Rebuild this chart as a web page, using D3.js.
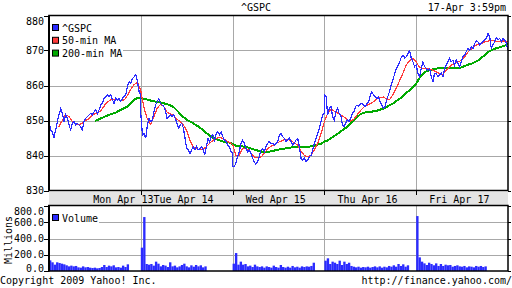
<!DOCTYPE html>
<html>
<head>
<meta charset="utf-8">
<script src="https://cdn.jsdelivr.net/npm/d3@7"></script>
<style>
  html, body { margin: 0; padding: 0; background: #fff; }
  svg { display: block; font-family: "DejaVu Sans Mono", monospace; font-size: 10px; }
  .series { shape-rendering: crispEdges; }
</style>
</head>
<body>
<div class="display"></div>
<script>
// ^GSPC intraday, 5 days, with 50-min and 200-min moving averages + volume

const WIDTH = 512;
const HEIGHT = 288;

const days = ['Mon Apr 13', 'Tue Apr 14', 'Wed Apr 15', 'Thu Apr 16', 'Fri Apr 17'];
// where each day label sits, as a fraction of its trading day
const dayLabelAt = [0.81, 0.465, 0.47, 0.47, 0.47];

const priceTicks = [830, 840, 850, 860, 870, 880];
const volumeTicks = [0, 200, 400, 600, 800];

// ^GSPC, per trading day, evenly spaced from open to close
const gspc = [
  [850.1,847.3,846.8,845.1,847.3,849.7,851.6,853.3,852.0,849.7,851.6,850.6,848.7,847.3,849.2,849.7,848.7,849.2,848.7,848.2,847.3,849.7,850.6,851.1,851.6,852.0,851.6,852.5,853.0,852.0,853.0,854.4,854.9,856.3,856.8,857.3,856.8,857.3,855.9,854.9,856.3,855.9,856.3,855.4,856.3,856.8,857.3,859.7,861.1,860.6,862.0,862.5,863.0,861.1,858.2,857.3],
  [852.0,845.9,846.3,844.9,848.7,850.6,849.7,850.1,852.5,854.4,855.4,856.3,854.9,854.4,854.0,853.0,850.6,851.1,851.6,851.1,851.6,850.6,849.2,847.8,848.7,849.2,847.8,844.9,842.0,841.6,840.6,841.6,842.5,841.6,842.5,841.6,842.0,842.5,841.6,840.1,842.5,844.9,844.0,845.4,845.9,844.4,846.3,846.8,845.9,846.8,845.4,844.4,844.0,843.0,842.5,841.1,840.6],
  [836.8,836.8,837.8,839.7,841.1,843.5,844.4,843.5,842.0,841.1,841.6,840.6,839.2,838.2,837.5,838.2,839.7,841.6,842.0,841.1,842.5,843.5,844.0,843.5,843.5,843.0,843.5,844.0,845.9,846.3,845.4,844.9,844.0,844.4,844.9,844.0,843.0,843.5,844.4,844.9,842.5,839.2,838.7,839.2,838.2,838.7,839.7,840.1,841.6,843.5,844.9,846.3,847.8,849.7,851.6,852.0],
  [857.3,856.8,851.6,853.5,854.0,851.1,850.1,852.5,853.5,852.0,851.6,848.7,848.2,849.2,850.1,849.7,850.6,852.0,852.5,854.0,854.4,854.0,854.9,854.9,854.4,854.0,854.9,855.4,857.3,858.2,857.3,856.8,856.3,856.8,855.4,854.4,853.5,854.0,855.9,857.3,858.7,860.6,862.0,863.5,864.9,865.9,866.8,868.2,868.7,867.8,868.2,869.2,869.9,867.8,866.8,865.4,865.9],
  [865.9,863.5,862.5,864.9,866.8,865.4,864.9,864.4,864.9,862.5,861.1,863.5,863.5,862.5,863.0,863.5,862.5,864.9,865.9,866.8,867.8,866.8,867.3,865.9,867.3,866.3,865.4,866.8,868.2,868.7,869.7,870.6,870.1,871.1,870.6,872.0,872.7,872.5,871.6,872.0,872.5,873.0,873.5,874.9,874.0,870.6,871.6,872.5,873.7,873.0,873.5,872.5,873.5,873.0,872.0,870.1]
];

const ma50 = [
  [null,null,null,848.2,849.9,851.6,851.2,849.9,849.0,848.9,849.1,849.9,850.4,851.3,851.9,852.2,853.0,854.4,855.4,856.0,856.1,856.0,855.7,855.9,857.3,859.0,860.3,860.9,858.5],
  [858.5,853.5,850.4,848.9,851.1,853.5,854.6,854.0,852.4,851.9,851.4,850.4,849.7,848.7,847.1,844.2,842.5,841.9,841.6,841.8,842.5,843.5,844.3,844.9,845.1,844.9,844.3,843.7,843.2],
  [843.2,840.1,840.1,841.9,842.1,841.5,840.1,839.4,839.3,839.9,841.1,842.2,842.8,843.3,843.8,844.2,844.6,844.7,844.1,843.5,842.8,841.1,839.9,839.6,840.1,841.8,843.5,846.3,849.7],
  [849.7,852.0,853.2,852.7,852.2,851.5,851.0,850.2,849.8,850.4,851.6,852.8,853.8,854.3,854.8,855.4,856.1,856.6,856.7,856.1,856.1,857.5,859.4,861.5,863.6,865.9,867.1,867.7,866.8],
  [866.8,865.1,864.9,864.9,864.7,864.4,864.0,863.5,863.0,864.1,865.1,866.0,866.4,866.8,867.4,868.4,869.8,870.6,871.4,871.8,872.0,872.5,872.7,872.9,872.7,872.5,872.7,872.7,872.5]
];

const ma200 = [
  [null,null,null,null,null,null,null,null,null,null,null,null,null,null,849.9,850.2,850.7,851.1,851.5,851.9,852.1,852.6,853.1,853.6,854.0,855.0,856.0,856.4,856.5],
  [856.5,856.1,856.0,855.7,855.5,855.3,855.2,854.9,854.7,854.3,853.8,852.9,851.9,851.0,850.2,849.7,849.2,848.6,848.0,847.2,846.4,845.7,845.1,844.7,844.3,844.0,843.9,843.7,843.3],
  [843.3,842.8,842.7,842.6,842.4,842.2,841.9,841.6,841.3,841.1,841.1,841.1,841.2,841.5,841.7,841.9,842.0,842.2,842.3,842.4,842.4,842.5,842.5,842.5,842.6,842.8,843.1,843.4,844.0],
  [844.0,844.3,844.9,845.6,846.2,846.9,847.6,848.2,849.1,850.0,851.0,851.8,852.2,852.4,852.5,852.6,852.8,853.1,853.4,853.9,854.4,854.9,855.6,856.2,857.0,857.9,858.6,859.6,860.6],
  [860.6,862.1,863.2,864.0,864.3,864.6,864.8,865.0,865.1,865.1,865.1,865.1,865.1,864.9,865.3,865.6,866.0,866.3,866.7,867.2,868.0,868.7,869.6,870.1,870.5,870.8,871.1,871.4,871.8]
];

// volume in millions, 10-minute bars from the open
const volume = [
  [131,107,78,107,98,90,82,70,57,66,57,62,45,41,57,45,49,41,37,41,33,37,49,74,49,66,57,70,45,49,41,66,49,82],
  [287,664,86,78,86,66,115,90,57,74,66,49,107,57,66,45,57,74,90,57,45,70,53,74,57,70,45,57],
  [90,221,78,115,78,86,57,66,49,78,57,49,57,41,57,49,41,66,49,41,74,49,41,53,41,62,45,53,41,57,49,57,53,62,102],
  [127,156,86,115,102,86,127,74,115,86,102,62,53,45,53,41,49,45,53,41,49,57,45,57,41,53,45,62,53,70,53,86,62,82,53,70],
  [676,168,115,94,74,102,86,70,94,62,86,62,78,70,74,53,62,70,57,53,62,45,57,53,45,62,53,62,49,57]
];
const BAR_STEP = 10 / 390; // one 10-min bar, in days

const BLUE = '#2b2bff', RED = '#ff3b3b', GREEN = '#00aa00', GRID = '#a8a8a8';

let svg, x, y, yVol;

function flatten(series) {
  const out = [];
  series.forEach((vals, d) => {
    vals.forEach((v, i) => out.push({ t: d + i / (vals.length - 1), v: v }));
  });
  return out;
}

function setupSvg() {
  svg = d3.select('.display')
    .append('svg')
    .attr('width', WIDTH)
    .attr('height', HEIGHT);

  x = d3.scaleLinear().domain([0, days.length]).range([49, 508]);
  y = d3.scaleLinear().domain([830, 880]).range([190.5, 15.5]);
  yVol = d3.scaleLinear().domain([0, 800]).range([271, 206]);
}

function drawTitles() {
  svg.append('text').attr('x', 256).attr('y', 11).attr('text-anchor', 'middle').text('^GSPC');
  svg.append('text').attr('x', 506).attr('y', 11).attr('text-anchor', 'end').text('17-Apr 3:59pm');
  svg.append('text').attr('x', 0).attr('y', 284).text('Copyright 2009 Yahoo! Inc.');
  svg.append('text').attr('x', 512).attr('y', 284).attr('text-anchor', 'end').text('http://finance.yahoo.com/');
  svg.append('text')
    .attr('transform', 'translate(11.5,240) rotate(-90)')
    .attr('text-anchor', 'middle')
    .text('Millions');
}

function drawGrid(g, yScale, ticks, top, bottom) {
  g.selectAll('.hgrid')
    .data(ticks.slice(1, -1))
    .enter().append('line')
    .attr('x1', x(0)).attr('x2', x(days.length))
    .attr('y1', d => Math.round(yScale(d)) + 0.5).attr('y2', d => Math.round(yScale(d)) + 0.5)
    .attr('stroke', GRID);
  g.selectAll('.vgrid')
    .data(d3.range(1, days.length))
    .enter().append('line')
    .attr('x1', d => Math.round(x(d)) + 0.5).attr('x2', d => Math.round(x(d)) + 0.5)
    .attr('y1', top).attr('y2', bottom)
    .attr('stroke', GRID);
  // little ticks outside both edges
  g.selectAll('.ltick')
    .data(ticks)
    .enter().append('line')
    .attr('x1', 44).attr('x2', x(0))
    .attr('y1', d => Math.round(yScale(d)) + 0.5).attr('y2', d => Math.round(yScale(d)) + 0.5)
    .attr('stroke', '#000');
  g.selectAll('.rtick')
    .data(ticks)
    .enter().append('line')
    .attr('x1', x(days.length)).attr('x2', x(days.length) + 3)
    .attr('y1', d => Math.round(yScale(d)) + 0.5).attr('y2', d => Math.round(yScale(d)) + 0.5)
    .attr('stroke', '#000');
}

function drawPricePanel() {
  const g = svg.append('g');
  drawGrid(g, y, priceTicks, y(880), y(830));

  g.selectAll('.ylabel')
    .data(priceTicks)
    .enter().append('text')
    .attr('x', 44)
    .attr('y', d => Math.max(y(d), 21) + 3.5)
    .attr('text-anchor', 'end')
    .text(d => d);

  const line = d3.line()
    .defined(d => d.v != null)
    .x(d => x(d.t))
    .y(d => y(d.v));

  g.append('path').datum(flatten(ma200)).attr('class', 'series')
    .attr('d', line).attr('fill', 'none').attr('stroke', GREEN).attr('stroke-width', 2);
  g.append('path').datum(flatten(ma50)).attr('class', 'series')
    .attr('d', line).attr('fill', 'none').attr('stroke', RED).attr('stroke-width', 1.2);
  g.append('path').datum(flatten(gspc)).attr('class', 'series')
    .attr('d', line).attr('fill', 'none').attr('stroke', BLUE).attr('stroke-width', 1.2);

  // legend
  const legend = [['^GSPC', BLUE], ['50-min MA', RED], ['200-min MA', GREEN]];
  g.append('rect').attr('x', 50).attr('y', 22).attr('width', 73).attr('height', 37).attr('fill', '#fff');
  const items = g.selectAll('.legend')
    .data(legend)
    .enter().append('g')
    .attr('transform', (d, i) => `translate(52.5,${24.5 + i * 12.8})`);
  items.append('rect').attr('width', 6).attr('height', 6).attr('fill', d => d[1]).attr('stroke', '#000');
  items.append('text').attr('x', 9.5).attr('y', 7).text(d => d[0]);

  g.append('rect')
    .attr('x', x(0)).attr('y', y(880))
    .attr('width', x(days.length) - x(0)).attr('height', y(830) - y(880))
    .attr('fill', 'none').attr('stroke', '#000').attr('stroke-width', 1.5);
  g.append('line').attr('x1', 49).attr('x2', 49).attr('y1', y(880)).attr('y2', y(830))
    .attr('stroke', '#000').attr('stroke-width', 2);
}

function drawDateBand() {
  const g = svg.append('g');
  g.append('rect')
    .attr('x', x(0)).attr('y', 192)
    .attr('width', x(days.length) - x(0)).attr('height', 13)
    .attr('fill', '#e4e4e4');
  g.append('line').attr('x1', x(0)).attr('x2', x(days.length)).attr('y1', 205.5).attr('y2', 205.5).attr('stroke', '#000');
  g.selectAll('.dtick')
    .data(d3.range(1, days.length))
    .enter().append('line')
    .attr('x1', d => Math.round(x(d)) + 0.5).attr('x2', d => Math.round(x(d)) + 0.5)
    .attr('y1', 190).attr('y2', 195)
    .attr('stroke', '#000');
  g.selectAll('.dlabel')
    .data(days)
    .enter().append('text')
    .attr('x', (d, i) => x(i + dayLabelAt[i]))
    .attr('y', 202.5)
    .attr('text-anchor', 'middle')
    .text(d => d);
}

function drawVolumePanel() {
  const g = svg.append('g');
  drawGrid(g, yVol, volumeTicks, 206, 271);

  g.selectAll('.vlabel')
    .data(volumeTicks)
    .enter().append('text')
    .attr('x', 44)
    .attr('y', d => Math.min(Math.max(yVol(d), 211), 268.5) + 3.5)
    .attr('text-anchor', 'end')
    .text(d => d.toFixed(1));

  const bars = [];
  volume.forEach((vals, d) => vals.forEach((v, i) => bars.push({ t: d + i * BAR_STEP, v: v })));
  g.selectAll('.bar')
    .data(bars)
    .enter().append('rect')
    .attr('x', d => x(d.t))
    .attr('width', x(BAR_STEP) - x(0))
    .attr('y', d => yVol(d.v))
    .attr('height', d => yVol(0) - yVol(d.v))
    .attr('fill', BLUE);

  g.append('rect').attr('x', 50).attr('y', 212).attr('width', 49).attr('height', 13).attr('fill', '#fff');
  g.append('rect').attr('x', 52.5).attr('y', 214.5).attr('width', 6).attr('height', 6).attr('fill', BLUE).attr('stroke', '#000');
  g.append('text').attr('x', 62).attr('y', 222).text('Volume');

  g.append('rect')
    .attr('x', x(0)).attr('y', 205.5)
    .attr('width', x(days.length) - x(0)).attr('height', 65.5)
    .attr('fill', 'none').attr('stroke', '#000').attr('stroke-width', 1.5);
  g.append('line').attr('x1', 49).attr('x2', 49).attr('y1', 205).attr('y2', 271.5)
    .attr('stroke', '#000').attr('stroke-width', 2);
}

setupSvg();
drawTitles();
drawPricePanel();
drawDateBand();
drawVolumePanel();
</script>
</body>
</html>
